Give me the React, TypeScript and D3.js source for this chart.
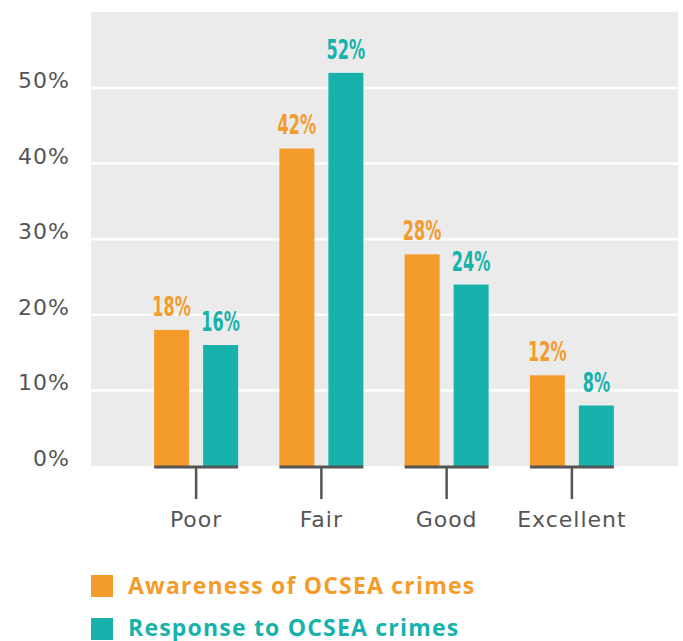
import React from "react";
import * as d3 from "d3";

const categories = ["Poor", "Fair", "Good", "Excellent"];
const awareness = [18, 42, 28, 12];
const response = [16, 52, 24, 8];
const yTicks = [0, 10, 20, 30, 40, 50];
const seriesNames = ["Awareness of OCSEA crimes", "Response to OCSEA crimes"];
const seriesColors = ["#F49C2B", "#16B2AB"];

export default function App() {
  const W = 683, H = 641;
  const bgLeft = 91, bgRight = 678, bgTop = 12, baseY = 466;
  const y = d3.scaleLinear().domain([0, 60]).range([baseY, baseY - 60 * 7.56]);
  const x = d3.scaleBand().domain(categories).range([133.5, 634.5]).paddingInner(0).paddingOuter(0);
  const barW = 35, gap = 14;
  const series = [awareness, response];
  const axisFont = "'DejaVu Sans', sans-serif";
  const labelFont = "'DejaVu Sans', sans-serif";
  return (
    <svg width={W} height={H} style={{ position: "absolute", left: 0, top: 0 }}>
      <rect x={bgLeft} y={bgTop} width={bgRight - bgLeft} height={baseY - bgTop} fill="#EBEBEB" />
      {yTicks.filter(t => t > 0).map(t => (
        <line key={t} x1={bgLeft} x2={bgRight} y1={y(t)} y2={y(t)} stroke="#fff" strokeWidth={2.5} />
      ))}
      {yTicks.map(t => (
        <text key={t} x={70} y={y(t)} textAnchor="end" fontFamily={axisFont} fontSize={22} letterSpacing={1} fill="#555">{t}%</text>
      ))}
      {categories.map((c, i) => {
        const cx = (x(c) as number) + x.bandwidth() / 2;
        const left = cx - gap / 2 - barW;
        return (
          <g key={c}>
            {series.map((s, k) => {
              const bx = k === 0 ? left : cx + gap / 2;
              const tx = bx + barW / 2;
              const ty = y(s[i]) - 14;
              return (
                <g key={k}>
                  <rect x={bx} y={y(s[i])} width={barW} height={baseY - y(s[i])} fill={seriesColors[k]} />
                  <text transform={`translate(${tx},${ty}) scale(0.62,1)`} textAnchor="middle" fontFamily={labelFont} fontWeight={700} fontSize={26} fill={seriesColors[k]}>{s[i]}%</text>
                </g>
              );
            })}
            <line x1={left} x2={cx + gap / 2 + barW} y1={baseY + 1} y2={baseY + 1} stroke="#555" strokeWidth={3} />
            <line x1={cx} x2={cx} y1={baseY} y2={499} stroke="#555" strokeWidth={2.5} />
            <text x={cx} y={527} textAnchor="middle" fontFamily={axisFont} fontSize={22} letterSpacing={1} fill="#555">{c}</text>
          </g>
        );
      })}
      {seriesNames.map((n, k) => (
        <g key={n}>
          <rect x={91} y={575 + k * 43} width={22} height={22} fill={seriesColors[k]} />
          <text x={128} y={594 + k * 42} fontFamily="'Open Sans', sans-serif" fontWeight={700} fontSize={23} letterSpacing={1.2} fill={seriesColors[k]}>{n}</text>
        </g>
      ))}
    </svg>
  );
}
